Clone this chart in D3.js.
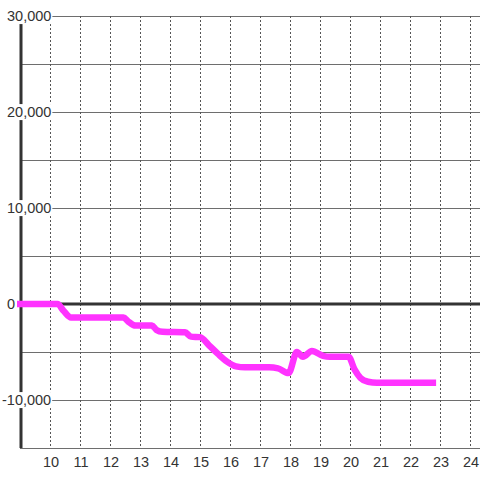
<!DOCTYPE html>
<html lang="en">
<head>
    <meta charset="UTF-8">
    <title>Chart</title>
    <style>
        body { margin: 0; background: #fff; }
        svg { display: block; font-family: "Liberation Sans", Arial, sans-serif; }
    </style>
</head>
<body>
    <div id="chart"></div>
    <script src="https://d3js.org/d3.v7.min.js"></script>
    <script>
        // hour of day vs value
        const hours = [8.9, 10.25, 10.45, 10.7, 12.45, 12.6, 12.85, 13.4, 13.55, 13.75, 14.5, 14.7, 15.0,
                       15.3, 15.6, 15.9, 16.2, 16.5, 17.3, 17.6, 17.95, 18.23, 18.43, 18.73, 19.1,
                       19.33, 19.95, 20.15, 20.35, 20.6, 20.9, 22.87];
        const values = [0, 0, -700, -1400, -1400, -1800, -2250, -2250, -2700, -2900, -2950, -3400, -3450,
                        -4300, -5200, -6000, -6500, -6600, -6600, -6700, -7200, -5000, -5500, -4900, -5400,
                        -5500, -5500, -6800, -7700, -8100, -8200, -8200];
        const xTicks = [10, 11, 12, 13, 14, 15, 16, 17, 18, 19, 20, 21, 22, 23, 24];
        const yGrid = [-15000, -10000, -5000, 0, 5000, 10000, 15000, 20000, 25000, 30000];
        const yLabels = [-10000, 0, 10000, 20000, 30000];

        const width = 480, height = 480;
        const plotLeft = 20, plotRight = 480, plotTop = 16, plotBottom = 448;

        const svg = d3.select("#chart").append("svg")
            .attr("width", width)
            .attr("height", height);

        const x = d3.scaleLinear().domain([9, 24.333]).range([plotLeft, plotRight]);
        const y = d3.scaleLinear().domain([-15000, 30000]).range([plotBottom, plotTop]);

        const fmt = d3.formatLocale({decimal: ".", thousands: ",", grouping: [3], currency: ["", ""], minus: "-"}).format(",");

        // horizontal grid
        svg.append("g").selectAll("line")
            .data(yGrid.filter(d => d !== 0))
            .enter().append("line")
            .attr("x1", plotLeft).attr("x2", plotRight)
            .attr("y1", d => y(d) + 0.5).attr("y2", d => y(d) + 0.5)
            .attr("stroke", "#6e6e6e")
            .attr("stroke-width", 1);

        // vertical dotted grid
        svg.append("g").selectAll("line")
            .data(xTicks)
            .enter().append("line")
            .attr("x1", d => x(d) + 0.5).attr("x2", d => x(d) + 0.5)
            .attr("y1", plotTop).attr("y2", plotBottom)
            .attr("stroke", "#555")
            .attr("stroke-width", 1)
            .attr("stroke-dasharray", "2,2");

        // zero line
        svg.append("line")
            .attr("x1", plotLeft).attr("x2", plotRight)
            .attr("y1", y(0)).attr("y2", y(0))
            .attr("stroke", "#333")
            .attr("stroke-width", 3);

        // left axis
        svg.append("line")
            .attr("x1", plotLeft + 1).attr("x2", plotLeft + 1)
            .attr("y1", plotTop).attr("y2", plotBottom)
            .attr("stroke", "#333")
            .attr("stroke-width", 3);

        // series
        const pts = hours.map((h, i) => [h, values[i]]);
        const line = d3.line()
            .x(d => x(d[0]))
            .y(d => y(d[1]))
            .curve(d3.curveMonotoneX);

        svg.append("path")
            .datum(pts)
            .attr("d", line)
            .attr("fill", "none")
            .attr("stroke", "#ff33ff")
            .attr("stroke-width", 6.5)
            .attr("stroke-linejoin", "round");

        // y labels with white backgrounds, digits start at a fixed x, minus hangs left
        const yl = svg.append("g").selectAll("g")
            .data(yLabels)
            .enter().append("g");

        yl.append("text")
            .attr("x", 7)
            .attr("y", d => y(d))
            .attr("dy", "0.35em")
            .attr("text-anchor", "start")
            .attr("font-size", 14.5)
            .attr("fill", "#333")
            .text(d => fmt(d));

        yl.each(function(d) {
            const g = d3.select(this);
            const t = g.select("text");
            if (d < 0) t.attr("dx", -5);
            const b = t.node().getBBox();
            g.insert("rect", "text")
                .attr("x", b.x - 1).attr("y", b.y)
                .attr("width", b.width + 2).attr("height", b.height)
                .attr("fill", "#fff");
        });

        // x labels
        svg.append("g").selectAll("text")
            .data(xTicks)
            .enter().append("text")
            .attr("x", d => x(d) + 1)
            .attr("y", 461.5)
            .attr("dy", "0.35em")
            .attr("text-anchor", "middle")
            .attr("font-size", 14.5)
            .attr("fill", "#333")
            .text(d => d);
    </script>
</body>
</html>
